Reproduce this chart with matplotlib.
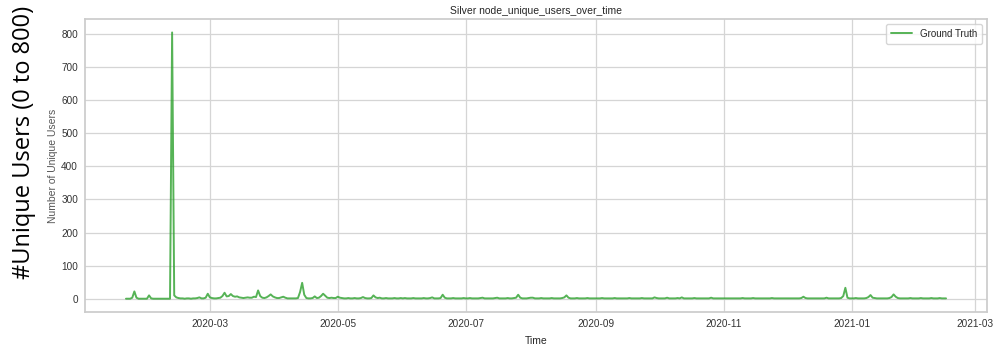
import matplotlib
matplotlib.use("Agg")
import matplotlib.pyplot as plt
import matplotlib.dates as mdates
import numpy as np
import pandas as pd
import seaborn as sns

# Daily unique-user counts, one list per month
jan_2020 = [0, 0, 0, 3, 22, 3, 0, 0, 0, 0, 0]  # from the 21st
feb_2020 = [10, 1, 0, 0, 0, 0, 0, 0, 0, 0, 0, 805, 10, 4, 2, 1, 1, 0, 1, 1,
            0, 1, 1, 2, 4, 1, 1, 3, 15]
mar_2020 = [4, 2, 1, 1, 2, 3, 8, 18, 7, 8, 14, 8, 6, 7, 4, 3, 2, 3, 4, 3,
            3, 6, 5, 25, 8, 3, 2, 4, 8, 13, 7]
apr_2020 = [4, 2, 2, 4, 6, 3, 1, 1, 1, 1, 1, 2, 20, 48, 12, 2, 1, 1, 2, 7,
            2, 3, 8, 15, 9, 3, 2, 3, 2, 2]
may_2020 = [6, 3, 2, 1, 1, 2, 1, 1, 2, 1, 1, 2, 5, 2, 1, 1, 2, 10, 4, 2,
            3, 1, 1, 2, 1, 1, 1, 2, 1, 1, 2]
jun_2020 = [1, 2, 1, 1, 1, 2, 1, 1, 1, 1, 2, 1, 1, 2, 4, 1, 1, 1, 2, 12,
            3, 1, 1, 1, 2, 1, 1, 1, 1, 2]
jul_2020 = [1, 1, 2, 1, 1, 1, 1, 2, 3, 1, 1, 1, 1, 1, 2, 3, 1, 1, 1, 1,
            2, 1, 1, 2, 3, 12, 3, 1, 1, 1, 2]
aug_2020 = [3, 3, 1, 1, 1, 2, 1, 1, 1, 1, 2, 1, 1, 1, 1, 2, 4, 10, 3, 1,
            1, 1, 2, 1, 1, 1, 1, 2, 1, 1, 1]
sep_2020 = [1, 1, 1, 2, 1, 1, 1, 1, 1, 2, 1, 1, 1, 1, 1, 1, 2, 1, 1, 1,
            1, 1, 2, 1, 1, 1, 1, 1, 4, 2]
oct_2020 = [1, 1, 1, 1, 3, 1, 1, 1, 1, 2, 1, 4, 1, 1, 1, 1, 1, 2, 1, 1,
            1, 1, 1, 1, 1, 3, 1, 1, 1, 1, 1]
nov_2020 = [1, 1, 1, 1, 1, 1, 1, 1, 1, 2, 1, 1, 1, 1, 2, 1, 1, 1, 1, 1,
            1, 1, 1, 2, 1, 1, 1, 1, 1, 1]
dec_2020 = [1, 1, 1, 1, 1, 1, 1, 2, 6, 2, 1, 1, 1, 1, 1, 1, 1, 1, 1, 3,
            1, 1, 1, 1, 1, 1, 2, 8, 33, 3, 1]
jan_2021 = [1, 1, 2, 1, 1, 1, 1, 2, 5, 11, 3, 2, 1, 1, 1, 1, 1, 1, 2, 5,
            13, 6, 2, 1, 1, 1, 1, 1, 2, 1, 1]
feb_2021 = [1, 1, 2, 1, 1, 1, 1, 2, 1, 1, 1, 2, 1, 1, 1]  # to the 15th

start_date = "2020-01-21"
series_label = "Ground Truth"
title_text = "Silver node_unique_users_over_time"
y_ticks = [0, 100, 200, 300, 400, 500, 600, 700, 800]

values = (jan_2020 + feb_2020 + mar_2020 + apr_2020 + may_2020 + jun_2020 +
          jul_2020 + aug_2020 + sep_2020 + oct_2020 + nov_2020 + dec_2020 +
          jan_2021 + feb_2021)
dates = pd.date_range(start_date, periods=len(values), freq="D")

sns.set_theme(style="whitegrid")
plt.rcParams["font.family"] = ["Liberation Sans", "DejaVu Sans"]

fig = plt.figure(figsize=(9.95, 3.48), dpi=100)
ax = fig.add_axes([0.0854, 0.1034, 0.9066, 0.8416])

ax.plot(dates, values, color="#2ca02c", alpha=0.8, linewidth=1.4,
        label=series_label)

ax.set_title(title_text, fontsize=7.5, color="#262626", pad=4)
ax.set_xlabel("Time", fontsize=7.5, color="#262626", labelpad=5)
ax.set_ylabel("Number of Unique Users", fontsize=7.5, color="#555555",
              labelpad=2)
ax.set_yticks(y_ticks)
ax.xaxis.set_major_locator(mdates.MonthLocator(bymonth=[1, 3, 5, 7, 9, 11]))
ax.xaxis.set_major_formatter(mdates.DateFormatter("%Y-%m"))
ax.tick_params(axis="both", labelsize=7.2, colors="#333333", length=0,
               pad=5)
for spine in ax.spines.values():
    spine.set_color("#cccccc")
ax.grid(color="#d5d5d5", linewidth=0.9)

leg = ax.legend(loc="upper right", fontsize=7, frameon=True,
                borderpad=0.5, handlelength=2.2)
leg.get_frame().set_edgecolor("#cccccc")

fig.text(0.024, 0.5905, "#Unique Users (0 to 800)", rotation=90,
         ha="center", va="center", fontsize=17, color="black",
         family=["Open Sans", "DejaVu Sans"])

fig.savefig("out.png", dpi=100)
